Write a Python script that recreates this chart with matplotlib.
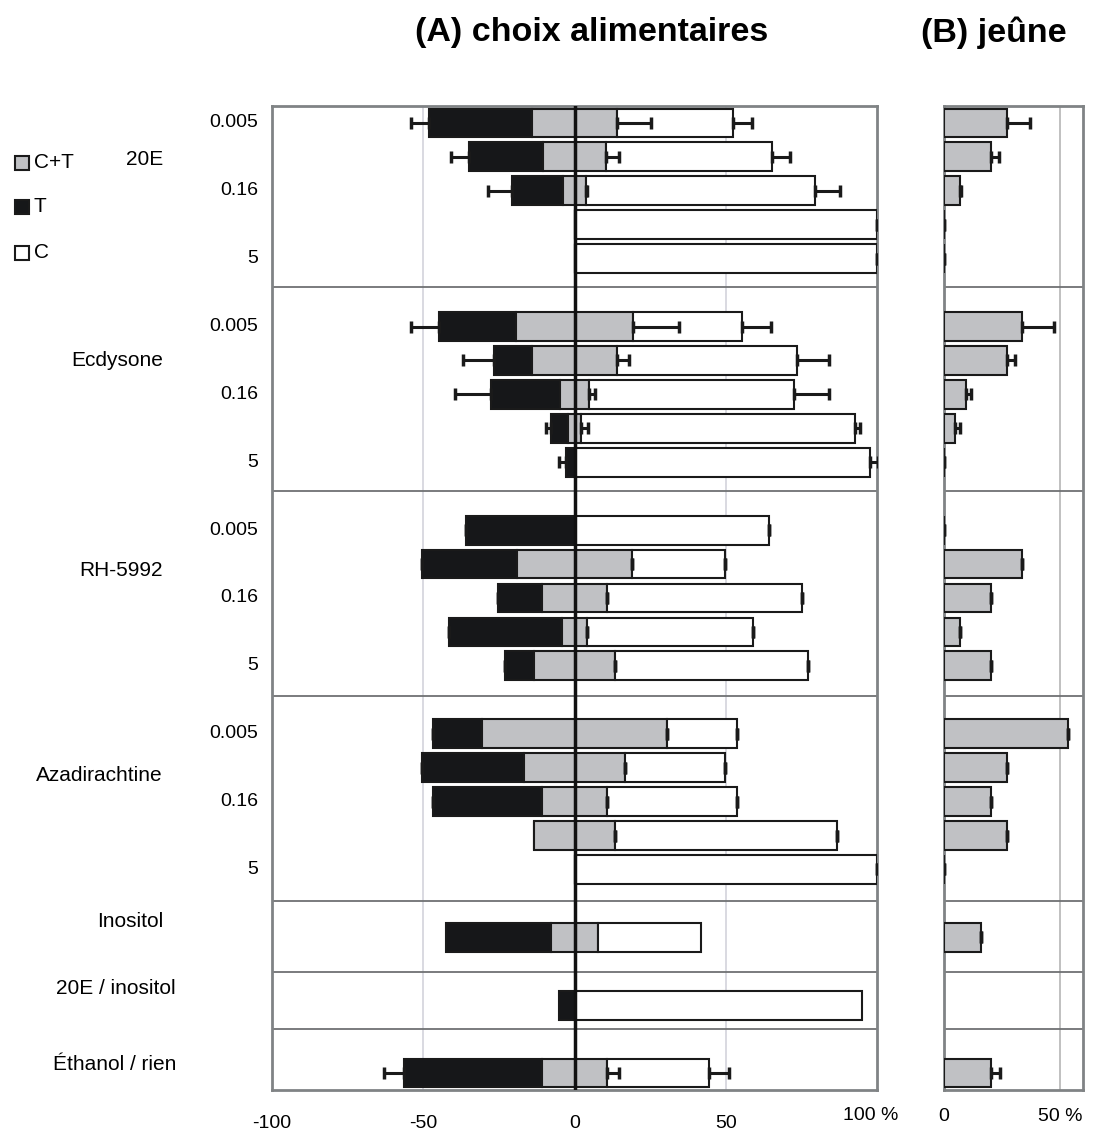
"""Choix alimentaires (A) et jeûne (B) : barres horizontales empilées."""

import matplotlib

matplotlib.use("Agg")
import matplotlib.pyplot as plt
import numpy as np
from matplotlib.patches import Rectangle
from matplotlib.transforms import blended_transform_factory

plt.rcParams["font.family"] = ["Liberation Sans", "DejaVu Sans"]

# groups of rows (top to bottom)
groups = ["20E", "Ecdysone", "RH-5992", "Azadirachtine", "Inositol", "20E / inositol", "Éthanol / rien"]
group_sizes = [5, 5, 5, 5, 1, 1, 1]
conc_labels = ["0.005", "", "0.16", "", "5"]

# panel A: % T (left, black), % C+T (centred, grey), % C (right, white)
pct_T = [34.2, 24.5, 17.0, 0, 0,
         25.5, 12.7, 22.9, 5.4, 2.8,
         35.8, 31.3, 14.8, 37.2, 9.7,
         16.3, 33.9, 36.3, 0, 0,
         34.7, 5.2, 45.6]
pct_CT = [27.9, 20.8, 7.5, 0, 0,
          38.8, 27.9, 9.6, 4.6, 0,
          0, 38.3, 21.2, 8.5, 26.7,
          61.0, 33.2, 21.2, 27.0, 0,
          15.7, 0, 21.2]
pct_C = [38.3, 55.0, 75.8, 100, 100,
         36.0, 59.6, 67.6, 90.3, 97.6,
         64.2, 30.7, 64.6, 54.9, 63.9,
         23.3, 33.2, 43.0, 73.3, 100,
         34.0, 95.1, 33.8]
nan = np.nan
err_T = [5.9, 5.8, 7.9, nan, nan,
         9.1, 10.1, 11.8, 1.8, 2.3,
         0, 0, 0, 0, 0,
         0, 0, 0, nan, nan,
         nan, nan, 6.8]
err_CT = [11.3, 4.2, 0.5, nan, nan,
          15.3, 4.1, 2.0, 2.2, nan,
          nan, 0, 0, 0, 0,
          0, 0, 0, 0, nan,
          nan, nan, 4.0]
err_C = [6.4, 5.9, 8.1, 0, 0,
         9.6, 10.5, 11.6, 1.7, 2.6,
         0, 0, 0, 0, 0,
         0, 0, 0, 0, 0,
         nan, nan, 6.8]

# panel B: jeûne, % C+T
fast = [27.1, 20.3, 7.0, 0, 0,
        33.5, 27.1, 9.3, 4.7, 0,
        0, 33.6, 20.3, 7.0, 20.3,
        53.5, 27.1, 20.3, 27.1, 0,
        16.1, nan, 20.3]
fast_err = [9.9, 3.6, 0.5, 0, 0,
            13.9, 3.6, 2.2, 2.1, 0,
            0, 0, 0, 0, 0,
            0, 0, 0, 0, 0,
            0, nan, 3.9]

# layout: separator rows and group-label offsets (in row slots)
separators = [5.33, 11.34, 17.38, 23.44, 25.53, 27.21]
label_offsets = [1.59, 1.49, 1.7, 1.73, 0.03, 0.0, 0.26]

BLACK = "#161719"
GREY = "#c0c1c4"
EDGE = "#1a1a1a"
W, H = 1098, 1133

# row slots: one blank slot between groups
ypos, group_start = [], []
s = 0
for n in group_sizes:
    group_start.append(s)
    ypos.extend(range(s, s + n))
    s += n + 1
y = np.array(ypos) + 0.5
T = np.array(pct_T)
CT = np.array(pct_CT)
C = np.array(pct_C)

fig = plt.figure(figsize=(W / 100, H / 100), dpi=100)
top, bot = 106, 1090
axA = fig.add_axes([272 / W, 1 - bot / H, (877 - 272) / W, (bot - top) / H])
axB = fig.add_axes([944 / W, 1 - bot / H, (1083 - 944) / W, (bot - top) / H])

kw = dict(height=0.85, edgecolor=EDGE, linewidth=1.5, zorder=3)
axA.barh(y, T, left=-CT / 2 - T, color=BLACK, **kw)
axA.barh(y, CT, left=-CT / 2, color=GREY, **kw)
axA.barh(y, C, left=CT / 2, color="white", **kw)

ekw = dict(fmt="none", ecolor=EDGE, elinewidth=2.2, capsize=4.5, capthick=2.5, zorder=4)
eT = np.array(err_T)
eCT = np.array(err_CT)
eC = np.array(err_C)
m = ~np.isnan(eT)
axA.errorbar(-CT[m] / 2 - T[m], y[m], xerr=[eT[m], np.zeros(m.sum())], **ekw)
m = ~np.isnan(eCT)
axA.errorbar(CT[m] / 2, y[m], xerr=[np.zeros(m.sum()), eCT[m]], **ekw)
m = ~np.isnan(eC)
axA.errorbar(CT[m] / 2 + C[m], y[m], xerr=[np.zeros(m.sum()), eC[m]], **ekw)
axA.axvline(0, color="#111111", lw=2.5, zorder=6)

fv = np.array(fast)
fe = np.array(fast_err)
m = ~np.isnan(fv)
axB.barh(y[m], fv[m], color=GREY, **kw)
axB.errorbar(fv[m], y[m], xerr=[np.zeros(m.sum()), fe[m]], **ekw)

for ax, xlim, grid, gcol in ((axA, (-100, 100), [-50, 50], "#d3d3db"), (axB, (0, 60), [50], "#b5b5b5")):
    ax.set_xlim(*xlim)
    ax.set_ylim(29, 0)
    ax.set_yticks([])
    for g in grid:
        ax.axvline(g, color=gcol, lw=1.2, zorder=1)
    for sp in separators:
        ax.axhline(sp, color="#6f7173", lw=1.3, zorder=2)
    for spine in ax.spines.values():
        spine.set_color("#808385")
        spine.set_linewidth(2)
    ax.tick_params(axis="x", length=0, labelsize=14)

axA.set_xticks([-100, -50, 0, 50])
axA.set_xticklabels(["-100", "-50", "0", "50"])
axA.tick_params(axis="x", pad=18)
axA.text(98, -0.0255, "100 %", transform=blended_transform_factory(axA.transData, axA.transAxes),
         ha="center", va="center", fontsize=14)
axB.set_xticks([0, 50])
axB.set_xticklabels(["0", "50 %"])
axB.tick_params(axis="x", pad=13)

# row labels
tr = blended_transform_factory(fig.transFigure, axA.transData)
for gi, (name, n) in enumerate(zip(groups, group_sizes)):
    s0 = group_start[gi]
    xr = 176 if "/" in name else 163
    fig.text(xr / W, s0 + label_offsets[gi], name, transform=tr, ha="right", va="center", fontsize=15)
    if n == 5:
        for k, lab in enumerate(conc_labels):
            if lab:
                fig.text(258 / W, s0 + k + 0.5, lab, transform=tr, ha="right", va="center", fontsize=14)

# legend
for yy, lab, col in ((163, "C+T", GREY), (207, "T", BLACK), (253, "C", "white")):
    fig.add_artist(Rectangle((15 / W, 1 - (yy + 7) / H), 14 / W, 14 / H, transform=fig.transFigure,
                             facecolor=col, edgecolor=EDGE, linewidth=1.5))
    fig.text(34 / W, 1 - yy / H, lab, ha="left", va="center", fontsize=15)

fig.text(592 / W, 1 - 33 / H, "(A) choix alimentaires", ha="center", va="center",
         fontsize=24.5, fontweight="bold")
fig.text(994 / W, 1 - 33 / H, "(B) jeûne", ha="center", va="center", fontsize=24.5, fontweight="bold")

fig.savefig("out.png", dpi=100)
